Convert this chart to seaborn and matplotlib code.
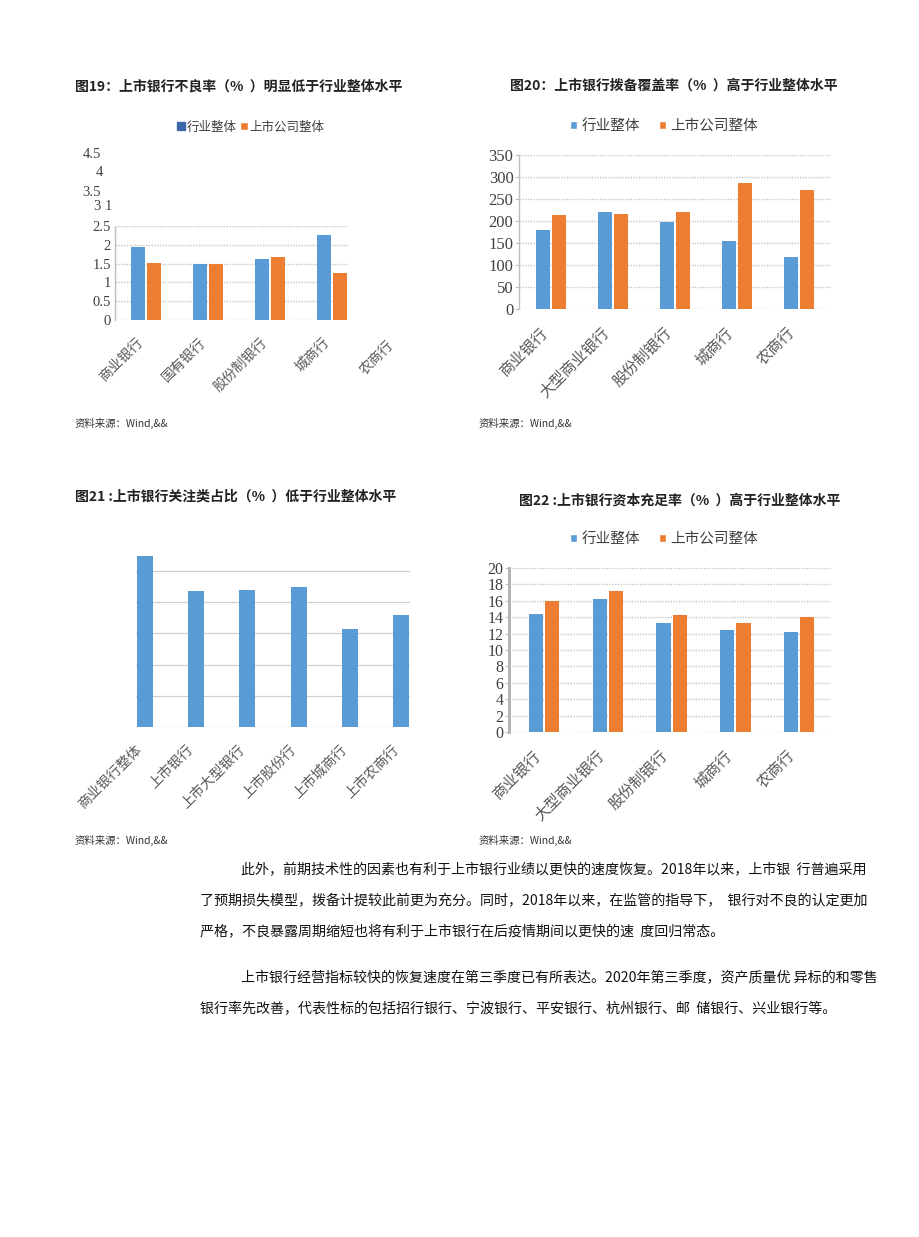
import numpy as np
import pandas as pd
import matplotlib
matplotlib.use("Agg")
import matplotlib.pyplot as plt
import matplotlib.transforms as mtrans
import seaborn as sns

W, H = 920, 1237

# ---- data ----
series_names = ["行业整体", "上市公司整体"]

npl_cats = ["商业银行", "国有银行", "股份制银行", "城商行", "农商行"]
npl_industry = [1.95, 1.48, 1.62, 2.26, np.nan]
npl_listed = [1.51, 1.48, 1.68, 1.25, np.nan]
npl_ticks = [0, 0.5, 1, 1.5, 2, 2.5]
npl_stray_labels = ["4.5", "4", "3.5", "3 1"]

cov_cats = ["商业银行", "大型商业银行", "股份制银行", "城商行", "农商行"]
cov_industry = [179, 221, 198, 154, 118]
cov_listed = [214, 216, 220, 286, 271]
cov_ticks = [0, 50, 100, 150, 200, 250, 300, 350]

sm_cats = ["商业银行整体", "上市银行", "上市大型银行", "上市股份行", "上市城商行", "上市农商行"]
sm_ratio = [2.74, 2.17, 2.19, 2.24, 1.57, 1.79]
sm_ticks = [0, 0.5, 1, 1.5, 2, 2.5]

car_cats = ["商业银行", "大型商业银行", "股份制银行", "城商行", "农商行"]
car_industry = [14.45, 16.27, 13.32, 12.47, 12.15]
car_listed = [16.03, 17.25, 14.21, 13.28, 14.0]
car_ticks = [0, 2, 4, 6, 8, 10, 12, 14, 16, 18, 20]

titles = [
    "图19：上市银行不良率（%  ）明显低于行业整体水平",
    "图20：上市银行拨备覆盖率（%  ）高于行业整体水平",
    "图21 :上市银行关注类占比（%  ）低于行业整体水平",
    "图22 :上市银行资本充足率（%  ）高于行业整体水平",
]
source = "资料来源：Wind,&&"

para_lines = [
    "此外，前期技术性的因素也有利于上市银行业绩以更快的速度恢复。2018年以来，上市银  行普遍采用",
    "了预期损失模型，拨备计提较此前更为充分。同时，2018年以来，在监管的指导下，  银行对不良的认定更加",
    "严格，不良暴露周期缩短也将有利于上市银行在后疫情期间以更快的速  度回归常态。",
    "上市银行经营指标较快的恢复速度在第三季度已有所表达。2020年第三季度，资产质量优 异标的和零售",
    "银行率先改善，代表性标的包括招行银行、宁波银行、平安银行、杭州银行、邮  储银行、兴业银行等。",
]

# ---- style ----
sns.set_theme(style="white")
CJK = ["Noto Sans CJK SC", "DejaVu Sans"]
SERIF = ["Liberation Serif", "Noto Sans CJK SC"]
plt.rcParams["font.family"] = CJK
BLUE = "#5b9bd5"
ORANGE = "#ed7d31"
GRID = "#c6c6c6"
LABEL = "#595959"

fig = plt.figure(figsize=(W / 100, H / 100), dpi=100)
fig.patch.set_facecolor("white")


def box(left, top, right, bottom):
    return fig.add_axes([left / W, 1 - bottom / H, (right - left) / W, (bottom - top) / H])


def long_df(cats, a, b):
    return pd.DataFrame({
        "cat": cats * 2,
        "series": [series_names[0]] * len(cats) + [series_names[1]] * len(cats),
        "value": list(a) + list(b),
    })


def style_axes(ax, ticks, ylim, xlim, tick_size, grid_ls, left_spine=None):
    ax.set_ylim(*ylim)
    ax.set_xlim(*xlim)
    ax.set_yticks(ticks)
    ax.set_yticklabels([f"{t:g}" for t in ticks], family=SERIF, fontsize=tick_size, color="#404040")
    ax.yaxis.grid(True, color=GRID, lw=1, ls=grid_ls)
    ax.set_axisbelow(True)
    ax.set_xlabel("")
    ax.set_ylabel("")
    for s in ["top", "right", "bottom"]:
        ax.spines[s].set_visible(False)
    if left_spine is None:
        ax.spines["left"].set_visible(False)
        ax.tick_params(axis="y", length=0, pad=3)
    else:
        ax.spines["left"].set_color(left_spine[0])
        ax.spines["left"].set_linewidth(left_spine[1])
        ax.spines["left"].set_linestyle(left_spine[2])
        ax.tick_params(axis="y", length=3, width=0.8, color="#c0c0c0", pad=1, left=True)
    ax.tick_params(axis="x", length=0, pad=11)
    ax.patch.set_alpha(0)


def rot_labels(ax, cats, size):
    ax.set_xticks(range(len(cats)))
    ax.set_xticklabels(cats, rotation=45, ha="right", fontsize=size, color=LABEL)


def pair_legend(ax, x, y, size, gap):
    handles, _ = ax.get_legend_handles_labels()
    ax.legend(handles, series_names, loc="center", bbox_to_anchor=(x / W, 1 - y / H),
              bbox_transform=fig.transFigure, ncol=2, frameon=False, fontsize=size,
              handlelength=0.5, handleheight=0.5, handletextpad=0.3, columnspacing=gap,
              labelcolor="#404040")


# ---- Fig 19: NPL ratio ----
ax1 = box(115, 226, 348, 320)
sns.barplot(data=long_df(npl_cats, npl_industry, npl_listed), x="cat", y="value", hue="series",
            order=npl_cats, palette=[BLUE, ORANGE], saturation=1, width=0.51, gap=0.12, ax=ax1)
style_axes(ax1, npl_ticks, (0, 2.5), (-0.5, 3.26), 10.5, (0, (1, 1)), ("#bdbdbd", 1, (0, (1, 1))))
ax1.tick_params(axis="y", length=0, pad=3)
ax1.set_xticks(range(4))
ax1.set_xticklabels(npl_cats[:4], rotation=45, ha="right", fontsize=10, color=LABEL)
off = mtrans.ScaledTranslation(2 / 72, -13 / 72, fig.dpi_scale_trans)
ax1.text(4, 0, npl_cats[4], transform=mtrans.blended_transform_factory(ax1.transData, ax1.transAxes) + off,
         rotation=45, ha="right", va="top", fontsize=10, color=LABEL, clip_on=False)
for lab, yy, xx in zip(npl_stray_labels, [155, 173, 192, 206], [101, 103, 101, 112]):
    fig.text(xx / W, 1 - yy / H, lab, ha="right", va="center", family=SERIF, fontsize=10.5, color="#404040")
handles, _ = ax1.get_legend_handles_labels()
ax1.legend(handles, series_names, loc="center", bbox_to_anchor=(251 / W, 1 - 127 / H),
           bbox_transform=fig.transFigure, ncol=2, frameon=False, fontsize=9,
           handlelength=0.6, handleheight=0.6, handletextpad=0.15, columnspacing=0.3,
           labelcolor="#404040")
ax1.get_legend().legend_handles[0].set_color("#3d67ad")

# ---- Fig 20: provision coverage ----
ax2 = box(519, 155, 831, 309)
sns.barplot(data=long_df(cov_cats, cov_industry, cov_listed), x="cat", y="value", hue="series",
            order=cov_cats, palette=[BLUE, ORANGE], saturation=1, width=0.51, gap=0.12, ax=ax2)
style_axes(ax2, cov_ticks, (0, 350), (-0.52, 4.52), 12, (0, (1, 1)), ("#bdbdbd", 1, (0, (1, 1))))
rot_labels(ax2, cov_cats, 11)
pair_legend(ax2, 664, 126, 10.5, 1.3)

# ---- Fig 21: special-mention loans ----
ax3 = box(136, 552, 410, 727)
sns.barplot(x=sm_cats, y=sm_ratio, color=BLUE, saturation=1, width=0.31, ax=ax3)
style_axes(ax3, sm_ticks, (0, 2.8), (-0.17, 5.17), 10, "-", None)
ax3.yaxis.grid(True, color="#d0d0d0", lw=0.9)
ax3.set_yticklabels([])
rot_labels(ax3, sm_cats, 10)

# ---- Fig 22: capital adequacy ----
ax4 = box(509, 568, 831, 732)
sns.barplot(data=long_df(car_cats, car_industry, car_listed), x="cat", y="value", hue="series",
            order=car_cats, palette=[BLUE, ORANGE], saturation=1, width=0.51, gap=0.12, ax=ax4)
style_axes(ax4, car_ticks, (0, 20), (-0.55, 4.5), 11.5, (0, (1, 1)), ("#b5b5b5", 2.2, "-"))
rot_labels(ax4, car_cats, 11)
pair_legend(ax4, 664, 539, 10.5, 1.3)

for ax in (ax1, ax2, ax3, ax4):
    for p in ax.patches:
        p.set_edgecolor("none")

# ---- titles and sources ----
for (tx, ty), t in zip([(75, 86), (510, 86), (75, 497), (519, 501)], titles):
    fig.text(tx / W, 1 - ty / H, t, ha="left", va="center", fontsize=10, fontweight="bold", color="#222222")
for sx, sy in [(75, 423), (479, 423), (75, 840), (479, 840)]:
    fig.text(sx / W, 1 - sy / H, source, ha="left", va="center", fontsize=7.5, color="#333333")

# ---- body text ----
for t, (lx, ly) in zip(para_lines, [(241, 870), (200, 901), (200, 932), (241, 978), (200, 1009)]):
    fig.text(lx / W, 1 - ly / H, t, ha="left", va="center", fontsize=10.1, color="#111111")

fig.savefig("out.png", dpi=100, facecolor="white")
